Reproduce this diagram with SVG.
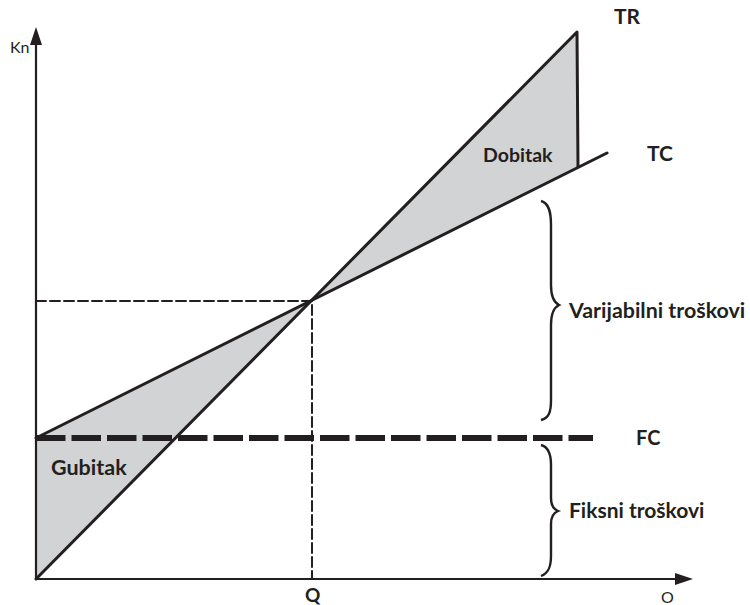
<svg xmlns="http://www.w3.org/2000/svg" width="750" height="605" viewBox="0 0 750 605">
<style>
.ln{stroke:#231f20;fill:none;stroke-linecap:round;stroke-linejoin:round}
.sh{fill:#d1d3d4;stroke:none}
.lb{font-family:Lato,"Liberation Sans",sans-serif;font-weight:700;fill:#231f20}
.ax{font-family:Lato,"Liberation Sans",sans-serif;font-weight:400;fill:#231f20}
.br{stroke:#231f20;fill:none;stroke-width:2.4}
</style>
<rect width="750" height="605" fill="#fff"/>
<g id="shading">
<polygon class="sh" points="36,438 311,301 36,579"/>
<polygon class="sh" points="311,301 577,32 578,167"/>
</g>
<g id="connectors">
<path class="ln" d="M36,301 H312 V579" stroke-width="2" stroke-dasharray="10,4" stroke-linecap="butt"/>
<line x1="36" y1="438" x2="593" y2="438" stroke="#231f20" stroke-width="6" stroke-dasharray="29.5,6"/>
<path class="ln" d="M36,579 V42" stroke-width="2.2"/>
<polygon points="36,27 30,45 42,45" fill="#231f20"/>
<path class="ln" d="M36,579 H678" stroke-width="2.2"/>
<polygon points="693,579 675,573 675,585" fill="#231f20"/>
</g>
<g id="TR">
<path class="ln" d="M36,579 L577,32 L578,167" stroke-width="3"/>
<text class="lb" x="614" y="24" font-size="21">TR</text>
</g>
<g id="TC">
<path class="ln" d="M36,438 L607,153" stroke-width="3"/>
<text class="lb" x="647" y="161" font-size="21">TC</text>
</g>
<g id="FC">
<text class="lb" x="636" y="445" font-size="20">FC</text>
</g>
<g id="dobitak">
<text class="lb" x="483" y="162" font-size="19.5">Dobitak</text>
</g>
<g id="gubitak">
<text class="lb" x="51" y="475" font-size="21.5">Gubitak</text>
</g>
<g id="varijabilni">
<path class="br" d="M541,201 C549,203 551,212 551,225 L551,285 C551,296 553,302 559,305 C553,308 551,314 551,325 L551,400 C551,412 549,418 541,420"/>
<text class="lb" x="569" y="318" font-size="21.4">Varijabilni troškovi</text>
</g>
<g id="fiksni">
<path class="br" d="M541,445 C549,447 551,455 551,465 L551,498 C551,505 553,509 558,511 C553,513 551,517 551,524 L551,556 C551,566 549,573 541,576"/>
<text class="lb" x="569" y="518" font-size="21">Fiksni troškovi</text>
</g>
<g id="axis-labels">
<text class="ax" x="10" y="53" font-size="16" fill="#333">Kn</text>
<text class="ax" x="661" y="603" font-size="16" fill="#333">O</text>
<text class="lb" x="305" y="602" font-size="19">Q</text>
</g>
</svg>
